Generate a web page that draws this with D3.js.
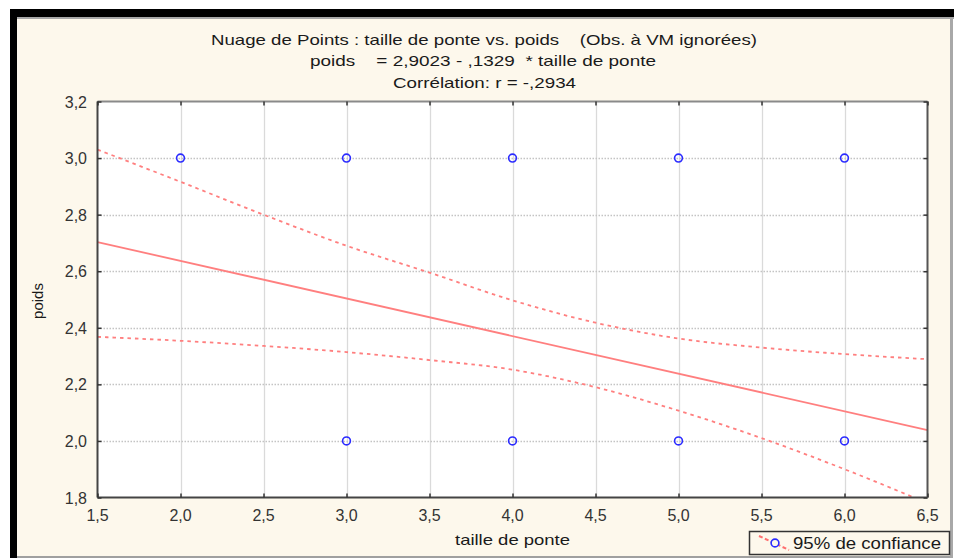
<!DOCTYPE html>
<html>
<head>
<meta charset="utf-8">
<script src="https://cdn.jsdelivr.net/npm/d3@7"></script>
<style>
  html, body { margin: 0; padding: 0; background: #ffffff; }
  svg { display: block; font-family: "Liberation Sans", Arial, sans-serif; }
</style>
</head>
<body>
<svg id="chart" width="954" height="558"></svg>
<script>
// ---- data ----
const titleLines = [
  "Nuage de Points : taille de ponte vs. poids    (Obs. à VM ignorées)",
  "poids    = 2,9023 - ,1329  * taille de ponte",
  "Corrélation: r = -,2934"
];
const xLabel = "taille de ponte";
const yLabel = "poids";
const legendLabel = "95% de confiance";

const xTicks = [1.5, 2.0, 2.5, 3.0, 3.5, 4.0, 4.5, 5.0, 5.5, 6.0, 6.5];
const yTicks = [1.8, 2.0, 2.2, 2.4, 2.6, 2.8, 3.0, 3.2];

const pointsX = [2, 3, 4, 5, 6, 3, 4, 5, 6];
const pointsY = [3, 3, 3, 3, 3, 2, 2, 2, 2];

const intercept = 2.9023;
const slope = -0.1329;

const bandX     = [1.5,  2.0,  2.5,  3.0,  3.5,  4.0,  4.5,  5.0,  5.5,  6.0,  6.5];
const bandUpper = [3.03, 2.916, 2.80, 2.69, 2.595, 2.497, 2.418, 2.362, 2.330, 2.307, 2.289];
const bandLower = [2.368, 2.354, 2.336, 2.314, 2.286, 2.252, 2.190, 2.107, 2.010, 1.900, 1.780];

// ---- layout ----
const svg = d3.select("#chart");
const W = 954, H = 558;
const plot = { left: 97.5, right: 927.5, top: 101.5, bottom: 497.5 };

const x = d3.scaleLinear().domain([1.5, 6.5]).range([plot.left, plot.right]);
const y = d3.scaleLinear().domain([1.8, 3.2]).range([plot.bottom, plot.top]);
const fmt = d => d3.format(".1f")(d).replace(".", ",");

// outer frame
svg.append("rect").attr("x", 0).attr("y", 0).attr("width", W).attr("height", H).attr("fill", "#ffffff");
svg.append("rect").attr("x", 17).attr("y", 17).attr("width", 933).attr("height", 540).attr("fill", "#fdf8ec");
svg.append("rect").attr("x", 10).attr("y", 9).attr("width", 944).attr("height", 8).attr("fill", "#000");
svg.append("rect").attr("x", 10).attr("y", 9).attr("width", 7).attr("height", 549).attr("fill", "#000");
svg.append("rect").attr("x", 17).attr("y", 17).attr("width", 937).attr("height", 2).attr("fill", "#a8a8a8");
svg.append("rect").attr("x", 950).attr("y", 17).attr("width", 3).attr("height", 541).attr("fill", "#a8a8a8");
svg.append("rect").attr("x", 17).attr("y", 556).attr("width", 933).attr("height", 2).attr("fill", "#a0a0a0");

// plot background
svg.append("rect")
  .attr("x", plot.left).attr("y", plot.top)
  .attr("width", plot.right - plot.left).attr("height", plot.bottom - plot.top)
  .attr("fill", "#ffffff");

// grid
const grid = svg.append("g");
grid.selectAll("line.v").data(xTicks.slice(1, -1)).join("line")
  .attr("x1", d => Math.round(x(d)) + 0.5).attr("x2", d => Math.round(x(d)) + 0.5)
  .attr("y1", plot.top).attr("y2", plot.bottom)
  .attr("stroke", "#dadada").attr("stroke-width", 1.3);
grid.selectAll("line.h").data(yTicks.slice(1, -1)).join("line")
  .attr("y1", d => Math.round(y(d)) + 0.5).attr("y2", d => Math.round(y(d)) + 0.5)
  .attr("x1", plot.left).attr("x2", plot.right)
  .attr("stroke", "#c4c4c4").attr("stroke-width", 1.3).attr("stroke-dasharray", "1.5,1.5");

// clip
svg.append("clipPath").attr("id", "clip").append("rect")
  .attr("x", plot.left).attr("y", plot.top)
  .attr("width", plot.right - plot.left).attr("height", plot.bottom - plot.top);
const g = svg.append("g").attr("clip-path", "url(#clip)");

const red = "#ff7f7f";
// regression line
g.append("line")
  .attr("x1", x(1.5)).attr("y1", y(intercept + slope * 1.5))
  .attr("x2", x(6.5)).attr("y2", y(intercept + slope * 6.5))
  .attr("stroke", red).attr("stroke-width", 1.8);

// confidence bands
const bandLine = d3.line().x(d => x(d[0])).y(d => y(d[1])).curve(d3.curveMonotoneX);
[bandUpper, bandLower].forEach(arr => {
  g.append("path")
    .attr("d", bandLine(bandX.map((v, i) => [v, arr[i]])))
    .attr("fill", "none").attr("stroke", red).attr("stroke-width", 1.8)
    .attr("stroke-dasharray", "3.5,4");
});

// points
g.selectAll("circle.pt").data(pointsX.map((v, i) => [v, pointsY[i]])).join("circle")
  .attr("cx", d => x(d[0])).attr("cy", d => y(d[1])).attr("r", 3.9)
  .attr("fill", "none").attr("stroke", "#2b2bff").attr("stroke-width", 1.6);

// frame
svg.append("line").attr("x1", plot.left).attr("x2", plot.right).attr("y1", plot.top).attr("y2", plot.top)
  .attr("stroke", "#8a8a8a").attr("stroke-width", 2);
svg.append("line").attr("x1", plot.left).attr("x2", plot.right).attr("y1", plot.bottom).attr("y2", plot.bottom)
  .attr("stroke", "#444").attr("stroke-width", 2);
svg.append("line").attr("x1", plot.left).attr("x2", plot.left).attr("y1", plot.top).attr("y2", plot.bottom)
  .attr("stroke", "#444").attr("stroke-width", 2);
svg.append("line").attr("x1", plot.right).attr("x2", plot.right).attr("y1", plot.top).attr("y2", plot.bottom)
  .attr("stroke", "#555").attr("stroke-width", 2);

// axes (inward ticks)
const tickColor = "#333";
function styleAxis(sel) {
  sel.select(".domain").remove();
  sel.selectAll(".tick line").attr("stroke", tickColor).attr("stroke-width", 1.5);
}
svg.append("g").attr("transform", `translate(0,${plot.bottom})`)
  .call(d3.axisBottom(x).tickValues(xTicks).tickSize(-4).tickFormat(""))
  .call(styleAxis);
svg.append("g").attr("transform", `translate(0,${plot.top})`)
  .call(d3.axisTop(x).tickValues(xTicks).tickSize(-4).tickFormat(""))
  .call(styleAxis);
svg.append("g").attr("transform", `translate(${plot.left},0)`)
  .call(d3.axisLeft(y).tickValues(yTicks).tickSize(-4).tickFormat(""))
  .call(styleAxis);
svg.append("g").attr("transform", `translate(${plot.right},0)`)
  .call(d3.axisRight(y).tickValues(yTicks).tickSize(-4).tickFormat(""))
  .call(styleAxis);

// tick labels
const labelColor = "#333";
svg.append("g").selectAll("text").data(xTicks).join("text")
  .attr("x", d => x(d)).attr("y", 521)
  .attr("text-anchor", "middle").attr("font-size", 16).attr("fill", labelColor)
  .text(fmt);
svg.append("g").selectAll("text").data(yTicks).join("text")
  .attr("x", 87).attr("y", d => y(d) + 6)
  .attr("text-anchor", "end").attr("font-size", 16).attr("fill", labelColor)
  .text(fmt);

// titles
const titleY = [45, 66, 88];
const titleSpan = [[211, 757], [310, 656], [393, 576]];
titleLines.forEach((t, i) => {
  svg.append("text")
    .attr("x", titleSpan[i][0]).attr("y", titleY[i])
    .attr("font-size", 15).attr("fill", "#1a1a1a")
    .attr("textLength", titleSpan[i][1] - titleSpan[i][0])
    .attr("lengthAdjust", "spacingAndGlyphs")
    .style("white-space", "pre")
    .text(t);
});

// axis titles
svg.append("text").attr("x", 455).attr("y", 545)
  .attr("font-size", 15).attr("fill", "#1a1a1a")
  .attr("textLength", 115).attr("lengthAdjust", "spacingAndGlyphs")
  .text(xLabel);
svg.append("text")
  .attr("transform", "translate(43,301) rotate(-90)")
  .attr("text-anchor", "middle")
  .attr("font-size", 15).attr("fill", "#1a1a1a")
  .text(yLabel);

// legend
const lg = svg.append("g");
lg.append("rect").attr("x", 749.5).attr("y", 531.5).attr("width", 200).attr("height", 23)
  .attr("fill", "#fdf8ec").attr("stroke", "#333").attr("stroke-width", 1.5);
lg.append("line").attr("x1", 759).attr("y1", 536).attr("x2", 789).attr("y2", 550)
  .attr("stroke", "#ff6f6f").attr("stroke-width", 2).attr("stroke-dasharray", "4,2.5");
lg.append("circle").attr("cx", 775).attr("cy", 543).attr("r", 3.9)
  .attr("fill", "#fdf8ec").attr("stroke", "#2b2bff").attr("stroke-width", 1.6);
lg.append("text").attr("x", 793).attr("y", 549)
  .attr("font-size", 16).attr("fill", "#1a1a1a")
  .attr("textLength", 148).attr("lengthAdjust", "spacingAndGlyphs")
  .text(legendLabel);
</script>
</body>
</html>
